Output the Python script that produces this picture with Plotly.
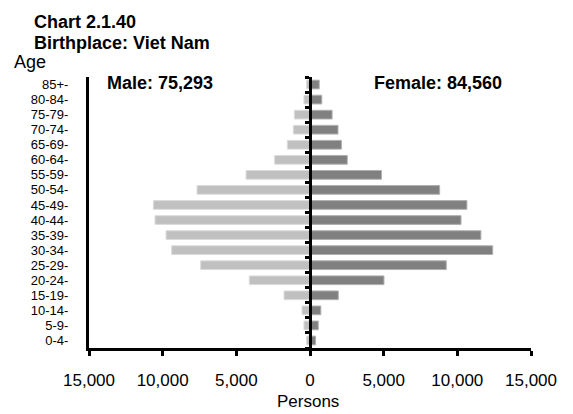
import plotly.graph_objects as go

# Age groups, top to bottom as shown in the chart
ages = ["85+-", "80-84-", "75-79-", "70-74-", "65-69-", "60-64-", "55-59-",
        "50-54-", "45-49-", "40-44-", "35-39-", "30-34-", "25-29-", "20-24-",
        "15-19-", "10-14-", "5-9-", "0-4-"]

male = [230, 410, 1060, 1130, 1540, 2400, 4340, 7670, 10630, 10520,
        9770, 9390, 7420, 4120, 1765, 540, 410, 230]
female = [625, 800, 1500, 1900, 2130, 2530, 4850, 8800, 10650, 10250,
          11600, 12400, 9250, 5020, 1920, 735, 560, 380]

xticks = [-15000, -10000, -5000, 0, 5000, 10000, 15000]
xticktext = ["15,000", "10,000", "5,000", "0", "5,000", "10,000", "15,000"]

pos = list(range(len(ages)))
font = "Liberation Sans, Arial, sans-serif"

# the page body has an 8px margin, so the figure is shifted by that much
OFF = 8
W, H = 573 - OFF, 414 - OFF
ML, MR, MT, MB = 89 - OFF, W - (531 - OFF), 77 - OFF, H - (348 - OFF)

fig = go.Figure()
fig.add_trace(go.Bar(
    y=pos, x=[-v for v in male], orientation="h",
    marker=dict(color="#c0c0c0", line=dict(color="#dcdcdc", width=1)),
    hoverinfo="skip", showlegend=False,
))
fig.add_trace(go.Bar(
    y=pos, x=female, orientation="h",
    marker=dict(color="#808080", line=dict(color="#b0b0b0", width=1)),
    hoverinfo="skip", showlegend=False,
))
# invisible trace so the centre axis gets drawn
fig.add_trace(go.Scatter(x=[0], y=[0], yaxis="y2", mode="markers",
                         marker=dict(opacity=0), hoverinfo="skip", showlegend=False))

fig.update_layout(
    width=W, height=H,
    margin=dict(l=ML, r=MR, t=MT, b=MB),
    paper_bgcolor="white", plot_bgcolor="white",
    barmode="overlay", bargap=0.42,
    font=dict(family=font, color="black"),
    xaxis=dict(
        range=[-15000, 15000], tickvals=xticks, ticktext=xticktext,
        showgrid=False, zeroline=False, showline=True, linecolor="black", linewidth=2.5,
        ticks="outside", ticklen=5, tickwidth=2.5, tickcolor="black",
        tickfont=dict(size=17), ticklabelstandoff=10,
    ),
    yaxis=dict(
        range=[17.5, -0.5], tickvals=pos, ticktext=ages,
        showgrid=False, zeroline=False, showline=True, linecolor="black", linewidth=3,
        ticks="", tickfont=dict(size=13), ticklabelstandoff=15,
    ),
    yaxis2=dict(
        overlaying="y", anchor="free", position=0.5, side="left",
        range=[17.5, -0.5], tickvals=[i + 0.5 for i in range(-1, 18)],
        showticklabels=False, showgrid=False, zeroline=False,
        showline=True, linecolor="black", linewidth=2.5,
        ticks="outside", ticklen=4, tickwidth=3, tickcolor="black",
    ),
)

# texts placed by their pixel position in the reference
labels = [
    ("<b>Chart 2.1.40</b>", 32, 22, "left", 18),
    ("<b>Birthplace: Viet Nam</b>", 32, 43, "left", 18),
    ("Age", 12, 62, "left", 18),
    ("<b>Male: 75,293</b>", 105, 83, "left", 18),
    ("<b>Female: 84,560</b>", 372, 83, "left", 18),
    ("Persons", 308, 401, "center", 17),
]
pw, ph = W - ML - MR, H - MT - MB
for text, px_x, px_y, anchor, size in labels:
    fig.add_annotation(
        text=text, xref="paper", yref="paper",
        x=(px_x - OFF - ML) / pw, y=1 - (px_y - OFF - MT) / ph,
        xanchor=anchor, yanchor="middle", showarrow=False,
        font=dict(size=size, color="black"),
    )

fig.write_html("out.html")
